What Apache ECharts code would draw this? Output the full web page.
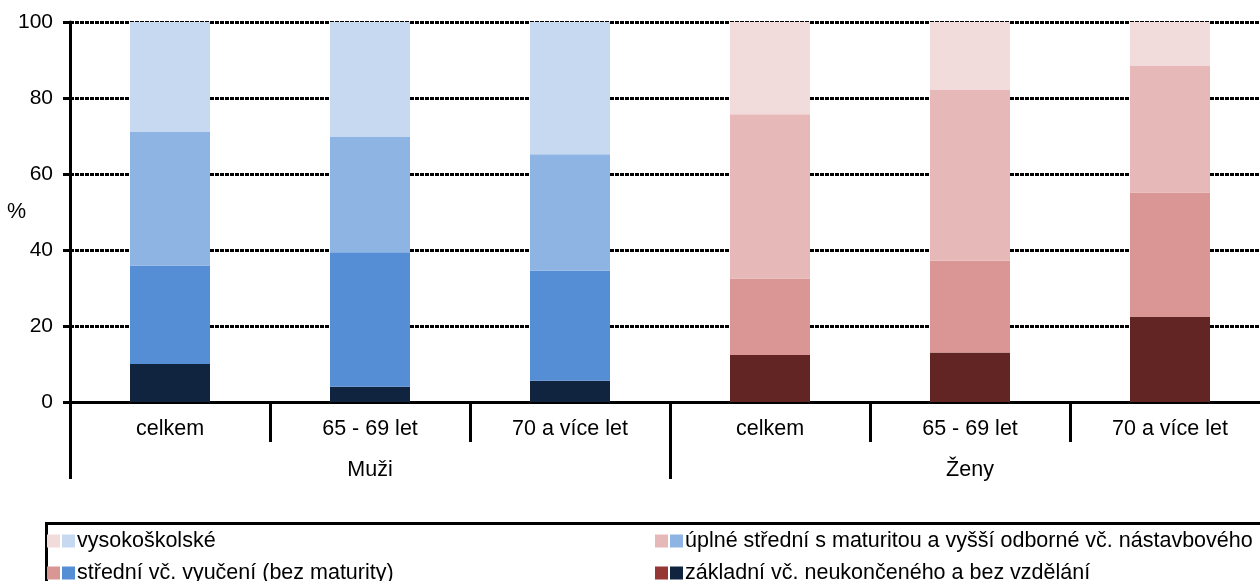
<!DOCTYPE html>
<html>
<head>
<meta charset="utf-8">
<script src="https://cdn.jsdelivr.net/npm/echarts@6/dist/echarts.min.js"></script>
<style>
html,body{margin:0;padding:0;background:#fff;}
#c{width:1260px;height:581px;}
</style>
</head>
<body>
<div id="c"></div>
<script>
// ---- data ----
const categories = ['celkem', '65 - 69 let', '70 a více let', 'celkem', '65 - 69 let', '70 a více let'];
const groups = ['Muži', 'Ženy'];
const yTicks = [0, 20, 40, 60, 80, 100];
const levelNames = [
  'základní vč. neukončeného a bez vzdělání',
  'střední vč. vyučení (bez maturity)',
  'úplné střední s maturitou a vyšší odborné vč. nástavbového',
  'vysokoškolské'
];
// Muži: celkem, 65-69, 70+
const menZakladni = [10.0, 4.0, 5.6];
const menStredni  = [25.9, 35.4, 29.0];
const menUplne    = [35.3, 30.5, 30.6];
const menVysoke   = [28.8, 30.1, 34.8];
// Ženy: celkem, 65-69, 70+
const womenZakladni = [12.4, 13.0, 22.4];
const womenStredni  = [20.1, 24.2, 32.7];
const womenUplne    = [43.2, 44.9, 33.3];
const womenVysoke   = [24.3, 17.9, 11.6];

const menColors   = ['#10243F', '#558ED5', '#8EB4E3', '#C6D9F1'];
const womenColors = ['#632523', '#D99694', '#E6B9B8', '#F2DCDB'];
const womenLegendColors = ['#953735', '#D99694', '#E6B9B8', '#F2DCDB'];

const menData = [menZakladni, menStredni, menUplne, menVysoke];
const womenData = [womenZakladni, womenStredni, womenUplne, womenVysoke];

const FONT = '"Liberation Sans", Arial, sans-serif';
const FS = 21.5;
const blank = ['-', '-', '-'];

const series = [];
for (let i = 0; i < 4; i++) {
  series.push({
    name: levelNames[i], type: 'bar', stack: 'all', barWidth: '40%',
    itemStyle: { color: menColors[i] },
    data: menData[i].concat(blank), xAxisIndex: 0
  });
  series.push({
    name: 'Ženy: ' + levelNames[i], type: 'bar', stack: 'all', barWidth: '40%',
    itemStyle: { color: womenColors[i] },
    data: blank.concat(womenData[i]), xAxisIndex: 0
  });
}

// legend positions: [left of pink icon, top of icon] for each level
const legendPos = [
  [655, 565], // zakladni
  [47, 565],  // stredni
  [655, 533], // uplne
  [47, 533]   // vysokoskolske
];
const legendText = { fontSize: FS, lineHeight: 20, fontFamily: FONT, color: '#000' };
const legends = [];
for (let i = 0; i < 4; i++) {
  const [x, y] = legendPos[i];
  legends.push({
    left: x, top: y - 3, padding: 0, itemWidth: 13, itemHeight: 13, icon: 'rect',
    selectedMode: false,
    data: [{ name: 'Ženy: ' + levelNames[i], itemStyle: { color: womenLegendColors[i] } }],
    formatter: () => ' ',
    textStyle: legendText
  });
  legends.push({
    left: x + 15, top: y - 3, padding: 0, itemWidth: 13, itemHeight: 13, icon: 'rect',
    selectedMode: false,
    data: [levelNames[i]],
    textStyle: Object.assign({}, legendText, { padding: [0, 0, 0, -3] })
  });
}

const chart = echarts.init(document.getElementById('c'), null, { renderer: 'canvas' });
chart.setOption({
  animation: false,
  backgroundColor: '#fff',
  textStyle: { fontFamily: FONT },
  grid: { left: 70, right: -10, top: 22, bottom: 179, containLabel: false, outerBoundsMode: 'none' },
  legend: legends,
  xAxis: [
    {
      type: 'category', data: categories, position: 'bottom',
      axisLine: { show: true, lineStyle: { color: '#000', width: 3 } },
      axisTick: { show: true, length: 40, interval: 0, lineStyle: { color: '#000', width: 3 } },
      axisLabel: { interval: 0, margin: 16, fontSize: FS, color: '#000', fontFamily: FONT }
    },
    {
      type: 'category', data: groups, position: 'bottom',
      axisLine: { show: false },
      axisTick: { show: true, length: 77, interval: 0, lineStyle: { color: '#000', width: 3 } },
      axisLabel: { interval: 0, margin: 57, fontSize: FS, color: '#000', fontFamily: FONT }
    }
  ],
  yAxis: {
    type: 'value', min: yTicks[0], max: yTicks[yTicks.length - 1], interval: 20,
    name: '%', nameLocation: 'middle', nameGap: 44, nameRotate: 0, nameMoveOverlap: false,
    nameTextStyle: { fontSize: FS, color: '#000', fontFamily: FONT },
    axisLine: { show: true, lineStyle: { color: '#000', width: 3 } },
    axisTick: { show: true, length: 7, lineStyle: { color: '#000', width: 3 } },
    axisLabel: { margin: 17, fontSize: 21, color: '#000', fontFamily: FONT },
    splitLine: { show: true, lineStyle: { color: '#000', width: 3, type: [4, 1] } }
  },
  graphic: [{
    type: 'rect', z: 0, silent: true,
    shape: { x: 46.5, y: 523.5, width: 1300, height: 100 },
    style: { fill: 'none', stroke: '#000', lineWidth: 3 }
  }],
  series: series
});
</script>
</body>
</html>
